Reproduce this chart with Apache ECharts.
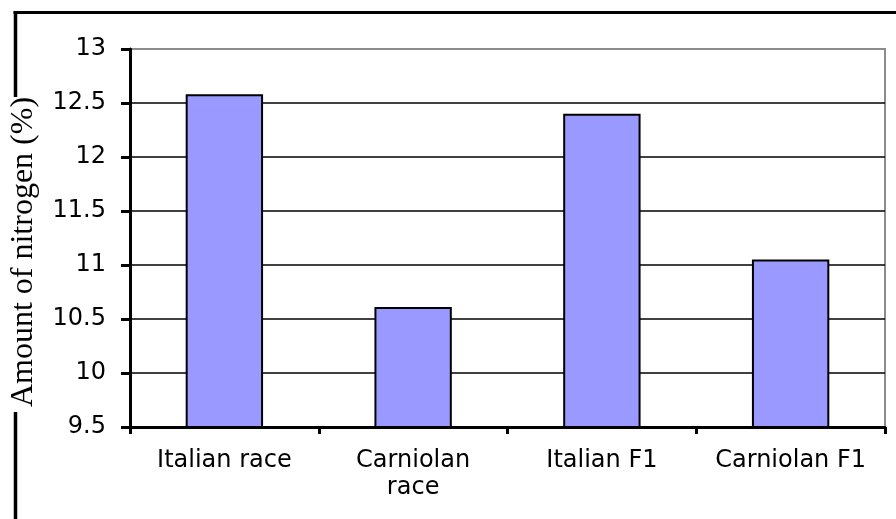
<!DOCTYPE html>
<html>
<head>
<meta charset="utf-8">
<script src="https://cdn.jsdelivr.net/npm/echarts@6/dist/echarts.min.js"></script>
<style>
html,body{margin:0;padding:0;background:#fff;}
#chart{width:896px;height:519px;}
</style>
</head>
<body>
<div id="chart"></div>
<script>
const categories = ['Italian race', 'Carniolan\nrace', 'Italian F1', 'Carniolan F1'];
const nitrogenValues = [12.58, 10.61, 12.40, 11.05];
const yTicks = [9.5, 10, 10.5, 11, 11.5, 12, 12.5, 13];
const yTitle = 'Amount of nitrogen (%)';

const chart = echarts.init(document.getElementById('chart'), null, {renderer: 'canvas'});
const gridColors = yTicks.map((v, i) => i === yTicks.length - 1 ? '#8c8c8c' : '#000');

chart.setOption({
  animation: false,
  backgroundColor: '#fff',
  grid: {
    left: 130, right: 11, top: 49, bottom: 92,
    containLabel: false, outerBoundsMode: 'none',
    show: true, borderColor: '#8c8c8c', borderWidth: 2, backgroundColor: 'transparent'
  },
  xAxis: {
    type: 'category',
    data: categories,
    axisLine: {lineStyle: {color: '#000', width: 3}},
    axisTick: {show: true, length: 7, lineStyle: {color: '#000', width: 3}},
    axisLabel: {
      color: '#000', fontFamily: 'DejaVu Sans', fontSize: 24,
      margin: 20, lineHeight: 27, interval: 0
    },
    splitLine: {show: false}
  },
  yAxis: {
    type: 'value',
    min: yTicks[0], max: yTicks[yTicks.length - 1], interval: 0.5,
    axisLine: {show: true, lineStyle: {color: '#000', width: 3}},
    axisTick: {show: true, length: 9, lineStyle: {color: '#000', width: 3}},
    axisLabel: {color: '#000', fontFamily: 'DejaVu Sans', fontSize: 24, margin: 24},
    splitLine: {show: true, lineStyle: {color: gridColors, width: 1.5}},
    name: yTitle,
    nameLocation: 'middle',
    nameGap: 90,
    nameTextStyle: {
      color: '#000', fontFamily: 'Liberation Serif', fontSize: 32,
      padding: [0, 28, 0, 0]
    }
  },
  graphic: [
    {type: 'line', shape: {x1: 13.5, y1: 12.5, x2: 896, y2: 12.5}, style: {stroke: '#000', lineWidth: 3}},
    {type: 'line', shape: {x1: 15.5, y1: 11, x2: 15.5, y2: 97}, style: {stroke: '#000', lineWidth: 3.5}},
    {type: 'line', shape: {x1: 15.5, y1: 412, x2: 15.5, y2: 519}, style: {stroke: '#000', lineWidth: 3.5}}
  ],
  series: [{
    type: 'bar',
    data: nitrogenValues,
    barWidth: '41%',
    itemStyle: {color: '#9999ff', borderColor: '#000', borderWidth: 2}
  }]
});
</script>
</body>
</html>
